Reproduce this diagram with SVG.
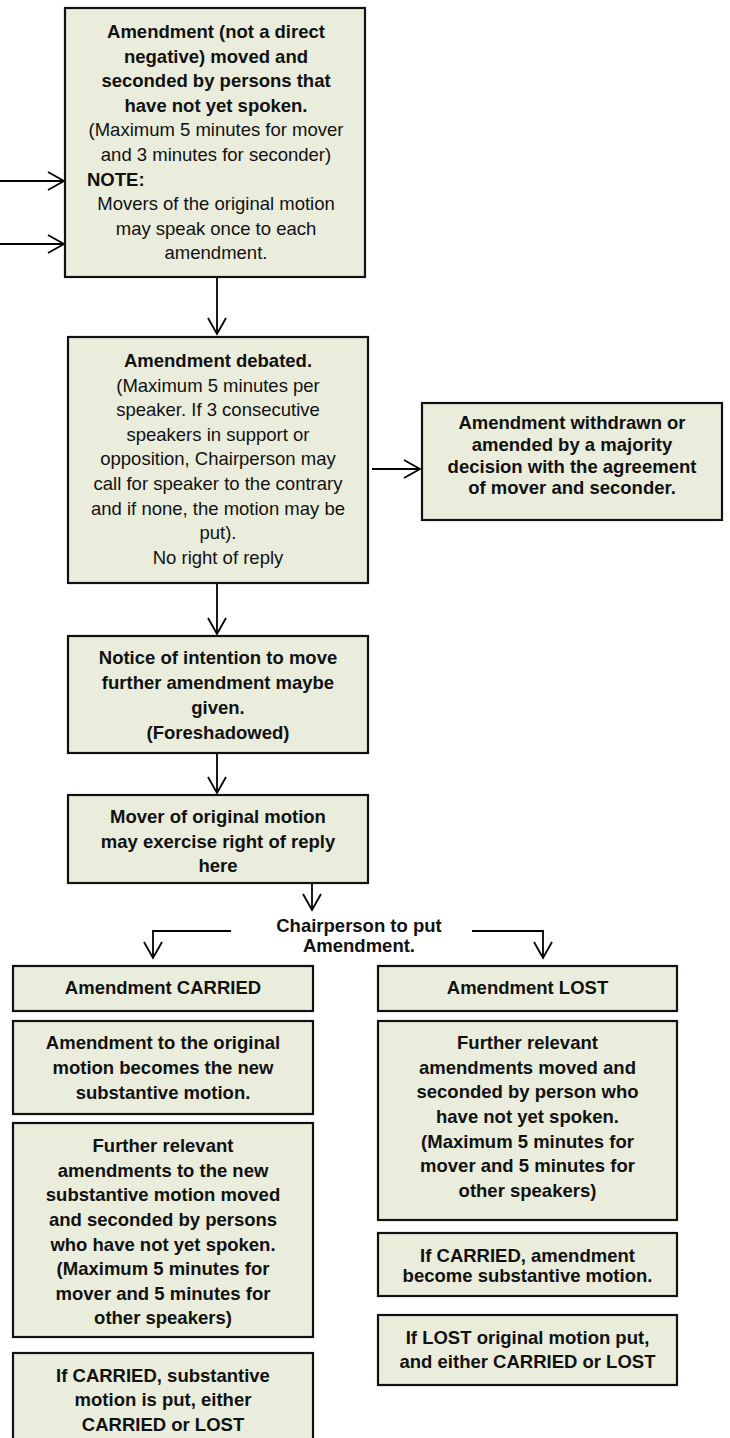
<svg xmlns="http://www.w3.org/2000/svg" width="730" height="1438" viewBox="0 0 730 1438">
<defs>
<style>
.box{fill:#EAEDDC;stroke:#111;stroke-width:2.2}
.t{font-family:"Liberation Sans",Arial,sans-serif;font-size:18.5px;fill:#111;text-anchor:middle}
.b{font-weight:bold}
.c{fill:none;stroke:#000;stroke-width:1.8}
</style>
<marker id="ah" markerUnits="userSpaceOnUse" markerWidth="20" markerHeight="22" refX="17" refY="11" orient="auto" viewBox="0 0 20 22">
<path d="M1,2 L17,11 L1,20" fill="none" stroke="#000" stroke-width="1.8"/>
</marker>
</defs>
<rect width="730" height="1438" fill="#fff"/>

<g id="connectors">
<line class="c" x1="0" y1="181" x2="64" y2="181" marker-end="url(#ah)"/>
<line class="c" x1="0" y1="244" x2="64" y2="244" marker-end="url(#ah)"/>
<line class="c" x1="217" y1="278" x2="217" y2="334" marker-end="url(#ah)"/>
<line class="c" x1="372" y1="469" x2="420" y2="469" marker-end="url(#ah)"/>
<line class="c" x1="217" y1="584" x2="217" y2="634" marker-end="url(#ah)"/>
<line class="c" x1="217" y1="754" x2="217" y2="793" marker-end="url(#ah)"/>
<line class="c" x1="312" y1="884" x2="312" y2="910" marker-end="url(#ah)"/>
<polyline class="c" points="231,931 153,931 153,958" marker-end="url(#ah)"/>
<polyline class="c" points="472,931 543,931 543,958" marker-end="url(#ah)"/>
<text class="t b" x="359" y="932">Chairperson to put</text>
<text class="t b" x="359" y="952">Amendment.</text>
</g>

<g id="n1">
<rect class="box" x="65" y="8" width="300" height="269"/>
<text class="t b" x="216" y="38">Amendment (not a direct</text>
<text class="t b" x="216" y="62.6">negative) moved and</text>
<text class="t b" x="216" y="87.2">seconded by persons that</text>
<text class="t b" x="216" y="111.8">have not yet spoken.</text>
<text class="t" x="216" y="136.4">(Maximum 5 minutes for mover</text>
<text class="t" x="216" y="161">and 3 minutes for seconder)</text>
<text class="t b" x="87" y="185.6" style="text-anchor:start">NOTE:</text>
<text class="t" x="216" y="210.2">Movers of the original motion</text>
<text class="t" x="216" y="234.8">may speak once to each</text>
<text class="t" x="216" y="259.4">amendment.</text>
</g>

<g id="n2">
<rect class="box" x="68" y="337" width="300" height="246"/>
<text class="t b" x="218" y="367">Amendment debated.</text>
<text class="t" x="218" y="391.6">(Maximum 5 minutes per</text>
<text class="t" x="218" y="416.2">speaker. If 3 consecutive</text>
<text class="t" x="218" y="440.8">speakers in support or</text>
<text class="t" x="218" y="465.4">opposition, Chairperson may</text>
<text class="t" x="218" y="490">call for speaker to the contrary</text>
<text class="t" x="218" y="514.6">and if none, the motion may be</text>
<text class="t" x="218" y="539.2">put).</text>
<text class="t" x="218" y="563.8">No right of reply</text>
</g>

<g id="n3">
<rect class="box" x="422" y="403" width="300" height="117"/>
<text class="t b" x="572" y="429">Amendment withdrawn or</text>
<text class="t b" x="572" y="451">amended by a majority</text>
<text class="t b" x="572" y="473">decision with the agreement</text>
<text class="t b" x="572" y="494">of mover and seconder.</text>
</g>

<g id="n4">
<rect class="box" x="68" y="636" width="300" height="117"/>
<text class="t b" x="218" y="664">Notice of intention to move</text>
<text class="t b" x="218" y="689">further amendment maybe</text>
<text class="t b" x="218" y="714">given.</text>
<text class="t b" x="218" y="739">(Foreshadowed)</text>
</g>

<g id="n5">
<rect class="box" x="68" y="795" width="300" height="88"/>
<text class="t b" x="218" y="823">Mover of original motion</text>
<text class="t b" x="218" y="847.5">may exercise right of reply</text>
<text class="t b" x="218" y="872">here</text>
</g>

<g id="n6">
<rect class="box" x="13" y="966" width="300" height="45"/>
<text class="t b" x="163" y="994">Amendment CARRIED</text>
</g>

<g id="n7">
<rect class="box" x="378" y="966" width="299" height="45"/>
<text class="t b" x="527.5" y="994">Amendment LOST</text>
</g>

<g id="n8">
<rect class="box" x="13" y="1021" width="300" height="93"/>
<text class="t b" x="163" y="1049">Amendment to the original</text>
<text class="t b" x="163" y="1074">motion becomes the new</text>
<text class="t b" x="163" y="1099">substantive motion.</text>
</g>

<g id="n9">
<rect class="box" x="13" y="1123" width="300" height="214"/>
<text class="t b" x="163" y="1152">Further relevant</text>
<text class="t b" x="163" y="1177">amendments to the new</text>
<text class="t b" x="163" y="1201">substantive motion moved</text>
<text class="t b" x="163" y="1226">and seconded by persons</text>
<text class="t b" x="163" y="1251">who have not yet spoken.</text>
<text class="t b" x="163" y="1275">(Maximum 5 minutes for</text>
<text class="t b" x="163" y="1300">mover and 5 minutes for</text>
<text class="t b" x="163" y="1324">other speakers)</text>
</g>

<g id="n10">
<rect class="box" x="13" y="1353" width="300" height="95"/>
<text class="t b" x="163" y="1382">If CARRIED, substantive</text>
<text class="t b" x="163" y="1406">motion is put, either</text>
<text class="t b" x="163" y="1431">CARRIED or LOST</text>
</g>

<g id="n11">
<rect class="box" x="378" y="1021" width="299" height="199"/>
<text class="t b" x="527.5" y="1049">Further relevant</text>
<text class="t b" x="527.5" y="1074">amendments moved and</text>
<text class="t b" x="527.5" y="1098">seconded by person who</text>
<text class="t b" x="527.5" y="1123">have not yet spoken.</text>
<text class="t b" x="527.5" y="1148">(Maximum 5 minutes for</text>
<text class="t b" x="527.5" y="1172">mover and 5 minutes for</text>
<text class="t b" x="527.5" y="1197">other speakers)</text>
</g>

<g id="n12">
<rect class="box" x="378" y="1233" width="299" height="63"/>
<text class="t b" x="527.5" y="1262">If CARRIED, amendment</text>
<text class="t b" x="527.5" y="1282">become substantive motion.</text>
</g>

<g id="n13">
<rect class="box" x="378" y="1315" width="299" height="70"/>
<text class="t b" x="527.5" y="1344">If LOST original motion put,</text>
<text class="t b" x="527.5" y="1368">and either CARRIED or LOST</text>
</g>
</svg>
